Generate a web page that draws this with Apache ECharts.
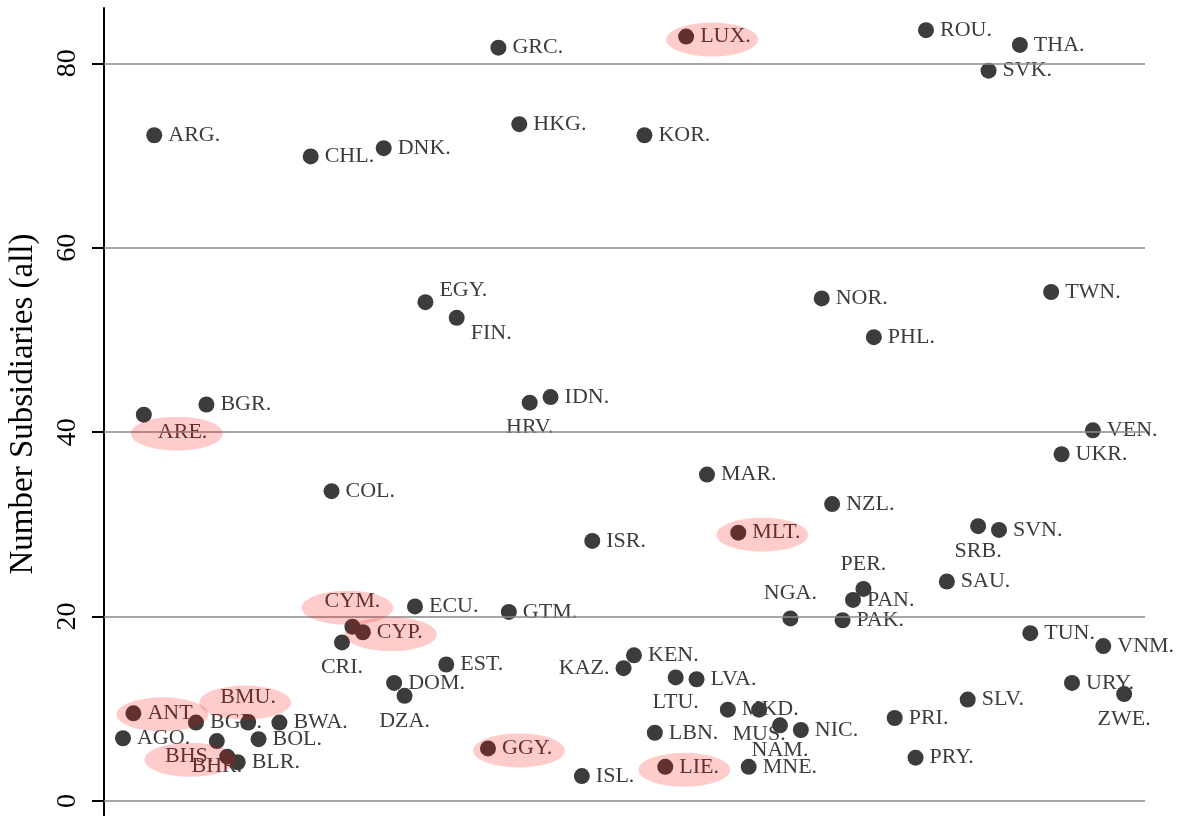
<!DOCTYPE html>
<html><head><meta charset="utf-8">
<script src="https://cdn.jsdelivr.net/npm/echarts@6/dist/echarts.min.js"></script>
<style>html,body{margin:0;padding:0;background:#fff}#c{width:1186px;height:816px}</style>
</head><body><div id="c"></div>
<script>
// ---- data ----
const countries = ['AGO','ANT','ARE','ARG','BGD','BGR','BHR','BHS','BLR','BMU','BOL','BWA',
  'CHL','COL','CRI','CYM','CYP','DNK','DOM','DZA','ECU','EGY','EST','FIN','GGY','GRC','GTM',
  'HKG','HRV','IDN','ISL','ISR','KAZ','KEN','KOR','LBN','LIE','LTU','LUX','LVA','MAR','MKD',
  'MLT','MNE','MUS','NAM','NGA','NIC','NOR','NZL','PAK','PAN','PER','PHL','PRI','PRY','ROU',
  'SAU','SLV','SRB','SVK','SVN','THA','TUN','TWN','UKR','URY','VEN','VNM','ZWE'];
// alphabetical position of each country in the full country list
const xIndex = [0,1,2,3,7,8,9,10,11,12,13,15,
  18,20,21,22,23,25,26,27,28,29,31,32,35,36,37,
  38,39,41,44,45,48,49,50,51,52,53,54,55,56,58,
  59,60,61,63,64,65,67,68,69,70,71,72,74,76,77,
  79,81,82,83,84,86,87,89,90,91,93,94,96];
const subsidiaries = [6.8,9.5,41.9,72.2,8.5,43.0,6.5,4.8,4.2,8.5,6.7,8.5,
  69.9,33.6,17.2,18.9,18.3,70.8,12.8,11.4,21.1,54.1,14.8,52.4,5.7,81.7,20.5,
  73.4,43.2,43.8,2.7,28.2,14.4,15.8,72.2,7.4,3.7,13.4,82.9,13.2,35.4,9.9,
  29.1,3.7,9.9,8.2,19.8,7.7,54.5,32.2,19.6,21.8,23.0,50.3,9.0,4.7,83.6,
  23.8,11.0,29.8,79.2,29.4,82.0,18.2,55.2,37.6,12.8,40.2,16.8,11.6];
const havens = ['ANT','ARE','BHS','BMU','CYM','CYP','GGY','LIE','LUX','MLT'];
const yTicks = [0,20,40,60,80];

// ---- styling (label placement / highlight ellipse offsets) ----
const labelPlace = {
  ARE:{position:'right',dy:18}, BHS:{position:'left'}, BHR:{position:'bottom'},
  BMU:{position:'top'}, CRI:{position:'bottom'}, CYM:{position:'top'}, DZA:{position:'bottom'},
  EGY:{position:'right',dy:-12}, FIN:{position:'right',dy:15},
  HRV:{position:'bottom'}, KAZ:{position:'left'}, LTU:{position:'bottom'}, MUS:{position:'bottom'},
  NAM:{position:'bottom'}, NGA:{position:'top'}, PER:{position:'top'}, SRB:{position:'bottom'},
  ZWE:{position:'bottom'}
};
const ellipseOffset = {
  ANT:[29,1], BMU:[-3,-20], BHS:[-37,3], ARE:[33,19], CYM:[-5,-19],
  CYP:[28,2], LUX:[26,3], MLT:[24,2], GGY:[31,2], LIE:[19,3]
};

const FONT = "'Liberation Serif','Times New Roman',serif";
const points = countries.map((c,i)=>{
  const p = labelPlace[c] || {position:'right'};
  return {name:c, value:[xIndex[i], subsidiaries[i]], label:{position:p.position}};
});
const ellipses = countries.map((c,i)=>havens.includes(c) ? {
  name:c, value:[xIndex[i], subsidiaries[i]], symbolOffset: ellipseOffset[c] || [0,0]
} : null).filter(Boolean);

const chart = echarts.init(document.getElementById('c'), null, {renderer:'canvas'});
chart.setOption({
  animation:false,
  backgroundColor:'#fff',
  grid:{left:104, right:41, top:8, bottom:0, containLabel:false, outerBoundsMode:'none'},
  xAxis:{type:'value', min:-1.82, max:98.0, show:false},
  yAxis:{type:'value', min:-1.63, max:86.0,
    name:'Number Subsidiaries (all)', nameLocation:'middle', nameGap:64,
    nameTextStyle:{fontFamily:FONT, fontSize:33, color:'#000', padding:[0,0,0,16]},
    axisLine:{show:true, onZero:false, lineStyle:{color:'#000', width:2}},
    axisTick:{show:true, customValues:yTicks, length:12, lineStyle:{color:'#000', width:2}},
    axisLabel:{customValues:yTicks, rotate:90, margin:22, fontFamily:FONT, fontSize:28, color:'#000'},
    splitLine:{show:false}
  },
  series:[
    {type:'scatter', data:[], z:1, silent:true,
      markLine:{silent:true, symbol:'none', label:{show:false},
        lineStyle:{color:'#8a8a8a', width:1.5, type:'solid'},
        data: yTicks.map(v=>({yAxis:v}))}},
    {type:'scatter', z:2, symbol:'circle', symbolSize:16,
      itemStyle:{color:'#3c3c3c', opacity:1},
      label:{show:true, formatter:p=>p.name+'.', distance:6, fontFamily:FONT, fontSize:22, color:'#3c3c3c'},
      labelLayout:function(params){
        const p = labelPlace[countries[params.dataIndex]];
        return (p && p.dy) ? {dy:p.dy} : {};
      },
      data:points},
    {type:'scatter', z:5, symbol:'circle', symbolSize:[92,34], silent:true,
      itemStyle:{color:'rgba(255,0,0,0.25)'},
      data:ellipses}
  ]
});
</script></body></html>
